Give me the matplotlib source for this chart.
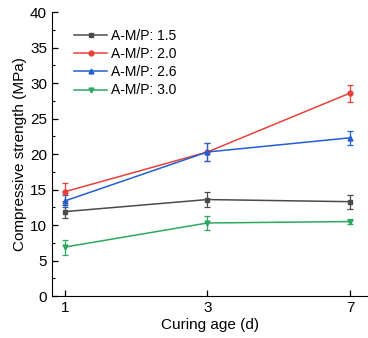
import matplotlib.pyplot as plt
from matplotlib.ticker import MultipleLocator

plt.rcParams['font.family'] = ['Liberation Sans', 'DejaVu Sans']

ages = ['1', '3', '7']
labels = ['A-M/P: 1.5', 'A-M/P: 2.0', 'A-M/P: 2.6', 'A-M/P: 3.0']
s15 = [11.9, 13.6, 13.3]
e15 = [0.9, 1.0, 1.0]
s20 = [14.7, 20.3, 28.6]
e20 = [1.3, 1.2, 1.2]
s26 = [13.4, 20.3, 22.3]
e26 = [0.8, 1.25, 1.0]
s30 = [6.9, 10.3, 10.5]
e30 = [1.05, 0.95, 0.3]

colors = ['#4a4a4a', '#e8413a', '#2060d0', '#2ca860']
markers = ['s', 'o', '^', 'v']

fig = plt.figure(figsize=(3.68, 3.38), dpi=100)
ax = fig.add_axes([0.141, 0.124, 0.859, 0.84])
x = list(range(len(ages)))
handles = []
for vals, errs, lab, c, m in zip([s15, s20, s26, s30], [e15, e20, e26, e30], labels, colors, markers):
    cont = ax.errorbar(x, vals, yerr=errs, color=c, marker=m, markersize=3.5, lw=1.1,
                       capsize=2.5, elinewidth=0.9, capthick=0.9, label=lab)
    handles.append(cont[0])

ax.set_xlim(-0.09, 2.126)
ax.set_ylim(0, 40)
ax.set_xticks(x)
ax.set_xticklabels(ages)
ax.yaxis.set_major_locator(MultipleLocator(5))
ax.yaxis.set_minor_locator(MultipleLocator(2.5))
ax.tick_params(direction='in', labelsize=11, length=4, width=0.9)
ax.tick_params(which='minor', direction='in', length=2.5, width=0.8)
ax.spines['top'].set_visible(False)
ax.spines['right'].set_visible(False)
ax.set_xlabel('Curing age (d)', fontsize=11, labelpad=2)
ax.set_ylabel('Compressive strength (MPa)', fontsize=11, labelpad=2)
ax.legend(handles, labels, loc='upper left', bbox_to_anchor=(0.03, 0.985), frameon=False,
          fontsize=10, handlelength=2.4, labelspacing=0.3, handletextpad=0.3)

fig.savefig('out.png', dpi=100)
